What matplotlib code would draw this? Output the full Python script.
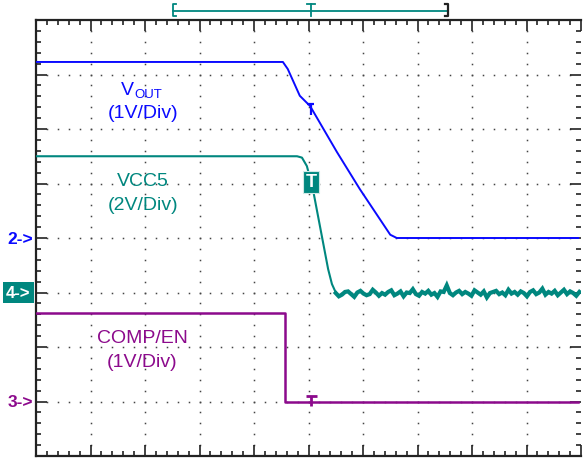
import numpy as np
import matplotlib.pyplot as plt

plt.rcParams['font.family'] = ['Liberation Sans', 'DejaVu Sans']

# screen is 10 x 8 divisions; times below are in divisions
# channel 2: VOUT, 1 V/div, ground marker at 4 div
vout_t = [0.0, 4.53, 4.62, 4.84, 5.03, 5.52, 5.94, 6.50, 6.62, 9.95]
vout_v = [3.23, 3.23, 3.10, 2.61, 2.42, 1.58, 0.90, 0.06, 0.00, 0.00]

# channel 4: VCC5, 2 V/div, ground marker at 3 div
vcc5_t = [0.0, 4.79, 4.88, 4.97, 5.08, 5.36, 5.43, 5.50]
vcc5_v = [5.00, 5.00, 4.95, 4.64, 3.80, 0.86, 0.31, 0.00]
# noisy tail after VCC5 collapses (volts)
vcc5_tail = [0.02, -0.10, -0.04, 0.06, 0.08, -0.02, -0.12, 0.04, 0.10, 0.00,
             -0.06, -0.02, 0.14, 0.04, -0.08, 0.02, -0.04, 0.06, 0.12, -0.06,
             0.00, 0.08, -0.10, 0.04, 0.02, 0.16, -0.02, -0.08, 0.06, 0.00,
             0.10, -0.04, 0.02, -0.12, 0.08, 0.06, 0.30, 0.02, -0.06, 0.04,
             0.10, -0.02, 0.06, 0.00, -0.08, 0.12, 0.04, -0.04, 0.08, -0.14,
             0.02, 0.06, 0.10, -0.02, 0.04, -0.06, 0.14, 0.00, 0.06, -0.04,
             0.08, 0.02, -0.10, 0.06, 0.12, -0.02, 0.04, 0.18, -0.04, 0.06,
             0.00, 0.10, -0.06, 0.04, 0.14, -0.02, 0.08, 0.02, -0.08, 0.06]

# channel 3: COMP/EN, 1 V/div, ground marker at 1 div
comp_t = [0.0, 4.57, 4.57, 9.95]
comp_v = [1.62, 1.62, 0.00, 0.00]

BLUE = '#0a0aff'
TEAL = '#00877f'
PURPLE = '#8c0a8c'
INK = '#222222'


def to_div(v, offset, scale):
    return offset + np.asarray(v, dtype=float) / scale


fig = plt.figure(figsize=(5.83, 4.60), dpi=100)
ax = fig.add_axes([36 / 583, 3 / 460, 545 / 583, 436 / 460])
ax.set_xlim(0, 10)
ax.set_ylim(0, 8)

# frame and ticks
for s in ['left', 'bottom', 'top']:
    ax.spines[s].set_color(INK)
    ax.spines[s].set_linewidth(1.6)
ax.spines['right'].set_visible(False)
ax.set_xticks(np.arange(0, 11, 1))
ax.set_yticks(np.arange(0, 9, 1))
ax.set_xticks(np.arange(0, 10.01, 0.2), minor=True)
ax.set_yticks(np.arange(0, 8.01, 0.2), minor=True)
ax.tick_params(which='both', direction='in', top=True, right=True,
               labelbottom=False, labelleft=False, color=INK, width=1.2)
ax.tick_params(which='major', length=8)
ax.tick_params(which='minor', length=3.5)

# dotted graticule
for gx in range(1, 10):
    yy = np.arange(0.2, 7.9, 0.2)
    ax.plot(np.full_like(yy, gx), yy, ls='none', marker='s', ms=1.1,
            mew=0, color='#444444', zorder=1)
for gy in range(1, 8):
    xx = np.arange(0.2, 9.9, 0.2)
    ax.plot(xx, np.full_like(xx, gy), ls='none', marker='s', ms=1.1,
            mew=0, color='#444444', zorder=1)

# traces
ax.plot(vout_t, to_div(vout_v, 4, 1), color=BLUE, lw=1.4, zorder=3)

tail_t = np.linspace(5.5, 9.97, len(vcc5_tail))
ax.plot(vcc5_t, to_div(vcc5_v, 3, 2), color=TEAL, lw=1.5, zorder=3)
ax.plot(tail_t, to_div(vcc5_tail, 3, 2) - 0.02, color=TEAL, lw=3.0,
        zorder=3, solid_joinstyle='miter')

ax.plot(comp_t, to_div(comp_v, 1, 1), color=PURPLE, lw=1.8, zorder=3)


# trigger markers
def t_mark(x, y, color, w=0.07, h=0.19, lw=1.6):
    ax.plot([x - w, x + w], [y, y], color=color, lw=lw, zorder=4,
            solid_capstyle='butt', clip_on=False)
    ax.plot([x, x], [y, y - h], color=color, lw=lw, zorder=4,
            solid_capstyle='butt', clip_on=False)


t_mark(5.04, 6.45, BLUE)
t_mark(5.05, 1.11, PURPLE, w=0.1, h=0.2, lw=2.0)
ax.text(5.05, 5.03, 'T', color='white', fontsize=13, fontweight='bold',
        ha='center', va='center', zorder=5,
        bbox=dict(boxstyle='square,pad=0.15', fc=TEAL, ec='#cfe9e6', lw=0.8))

# channel labels
ax.text(1.80, 6.64, 'V', color=BLUE, fontsize=14, ha='right', va='baseline')
ax.text(1.80, 6.59, 'OUT', color=BLUE, fontsize=9.5, ha='left', va='baseline')
ax.text(1.963, 6.31, '(1V/Div)', color=BLUE, fontsize=14, ha='center', va='center')
ax.text(1.963, 5.06, 'VCC5', color=TEAL, fontsize=14, ha='center', va='center')
ax.text(1.963, 4.61, '(2V/Div)', color=TEAL, fontsize=14, ha='center', va='center')
ax.text(1.954, 2.17, 'COMP/EN', color=PURPLE, fontsize=14, ha='center', va='center')
ax.text(1.954, 1.74, '(1V/Div)', color=PURPLE, fontsize=14, ha='center', va='center')

# ground reference markers
ax.text(-0.06, 4.0, '2->', color=BLUE, fontsize=12.5, fontweight='semibold',
        ha='right', va='center', clip_on=False)
ax.text(-0.06, 1.0, '3->', color=PURPLE, fontsize=12.5, fontweight='semibold',
        ha='right', va='center', clip_on=False)
ax.text(-0.10, 3.0, '4->', color='white', fontsize=12, fontweight='bold',
        ha='right', va='center', clip_on=False,
        bbox=dict(boxstyle='square,pad=0.2', fc=TEAL, ec='none'))

# record bracket above the screen
by = 8.165
ax.plot([2.51, 7.56], [by, by], color=TEAL, lw=1.3, clip_on=False)
ax.plot([2.56, 2.51, 2.51, 2.56], [8.29, 8.29, 8.07, 8.07], color=TEAL,
        lw=1.3, clip_on=False)
ax.plot([7.51, 7.56, 7.56, 7.51], [8.29, 8.29, 8.07, 8.07], color=INK,
        lw=1.6, clip_on=False)
ax.plot([4.98, 5.12], [8.29, 8.29], color=TEAL, lw=1.3, clip_on=False)
ax.plot([5.05, 5.05], [8.29, 8.07], color=TEAL, lw=1.3, clip_on=False)

fig.savefig('out.png', dpi=100)
